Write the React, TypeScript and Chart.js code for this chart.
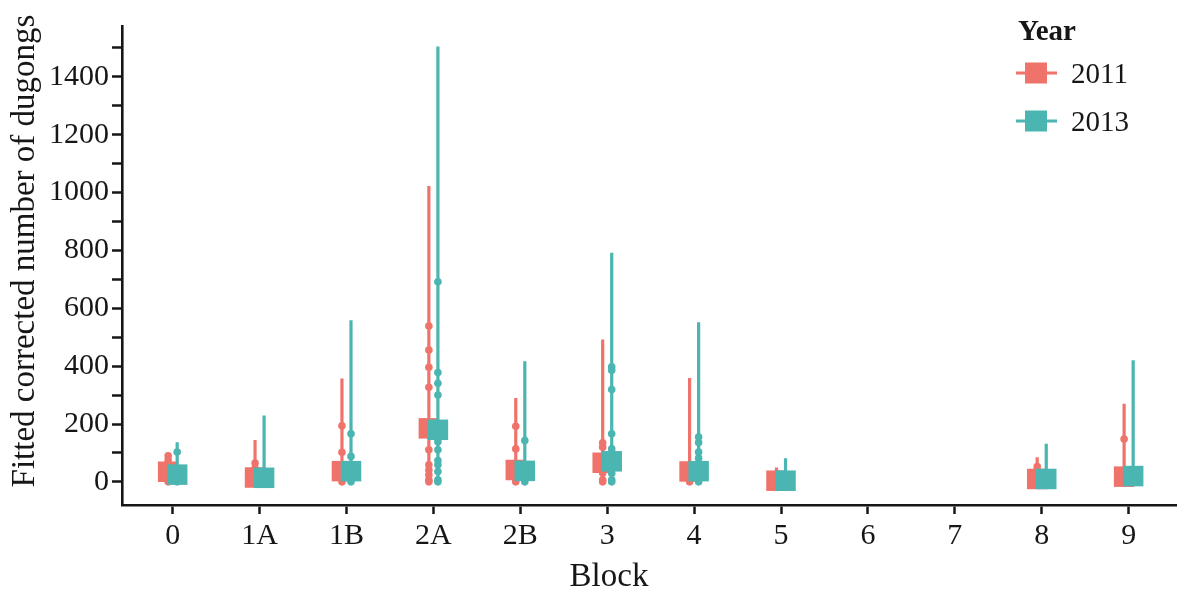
import React, { useEffect, useRef } from "react";
import { Chart, registerables } from "chart.js";

Chart.register(...registerables);

const categories = ["0", "1A", "1B", "2A", "2B", "3", "4", "5", "6", "7", "8", "9"];
const years = ["2011", "2013"];

const median2011 = [35, 15, 37, 185, 41, 66, 36, 4, null, null, 10, 18];
const median2013 = [25, 14, 37, 180, 38, 71, 37, 4, null, null, 10, 20];

const max2011 = [99, 145, 357, 1023, 290, 492, 359, 50, null, null, 85, 270];
const max2013 = [137, 229, 559, 1505, 417, 792, 552, 82, null, null, 132, 420];

const points2011 = [
  [0, 20, 36, 55, 76, 90],
  [0, 7, 20, 47, 65],
  [0, 10, 25, 102, 194],
  [0, 7, 24, 41, 59, 111, 327, 396, 456, 539],
  [0, 10, 25, 114, 192],
  [0, 7, 31, 53, 120, 135],
  [0, 19, 42],
  [0, 7],
  [],
  [],
  [19, 42, 53],
  [1, 24, 148],
];
const points2013 = [
  [0, 10, 103],
  [0, 7, 20, 35],
  [0, 10, 88, 166],
  [0, 7, 36, 59, 74, 111, 139, 300, 341, 378, 692],
  [0, 20, 143],
  [0, 7, 30, 114, 166, 319, 386, 398],
  [0, 20, 82, 103, 136, 155],
  [0],
  [],
  [],
  [0],
  [0, 10],
];

const yTicks = [0, 100, 200, 300, 400, 500, 600, 700, 800, 900, 1000, 1100, 1200, 1300, 1400, 1500];

const RED = "#F0736B";
const TEAL = "#4BB5B1";
const INK = "#161616";
const FONT = '"Liberation Serif", "Times New Roman", serif';
const DODGE = 0.052;

function lineData(maxes: (number | null)[], off: number) {
  const out: { x: number; y: number | null }[] = [];
  maxes.forEach((m, i) => {
    if (m == null) return;
    out.push({ x: i + off, y: 0 });
    out.push({ x: i + off, y: m });
    out.push({ x: i + off, y: null });
  });
  return out;
}

function pointData(pts: number[][], off: number) {
  const out: { x: number; y: number }[] = [];
  pts.forEach((arr, i) => arr.forEach((v) => out.push({ x: i + off, y: v })));
  return out;
}

function medData(meds: (number | null)[], off: number) {
  const out: { x: number; y: number }[] = [];
  meds.forEach((m, i) => {
    if (m != null) out.push({ x: i + off, y: m });
  });
  return out;
}

const overlayPlugin = {
  id: "overlay",
  afterDraw(chart: any) {
    const ctx = chart.ctx;
    ctx.save();
    ctx.fillStyle = INK;
    // Y title
    ctx.save();
    ctx.translate(34, 251);
    ctx.rotate(-Math.PI / 2);
    ctx.font = `33px ${FONT}`;
    ctx.textAlign = "center";
    ctx.textBaseline = "alphabetic";
    ctx.fillText("Fitted corrected number of dugongs", 0, 0);
    ctx.restore();
    // X title
    ctx.font = `33px ${FONT}`;
    ctx.textAlign = "center";
    ctx.textBaseline = "alphabetic";
    ctx.fillText("Block", 609, 586);
    // Legend
    ctx.textAlign = "left";
    ctx.font = `bold 29px ${FONT}`;
    ctx.fillText("Year", 1018, 40);
    const items = [
      { label: years[0], color: RED, y: 73 },
      { label: years[1], color: TEAL, y: 121 },
    ];
    items.forEach((it) => {
      ctx.strokeStyle = it.color;
      ctx.lineWidth = 3;
      ctx.beginPath();
      ctx.moveTo(1016, it.y);
      ctx.lineTo(1057, it.y);
      ctx.stroke();
      ctx.fillStyle = it.color;
      ctx.fillRect(1025, it.y - 10.5, 22, 21);
      ctx.fillStyle = INK;
      ctx.font = `29px ${FONT}`;
      ctx.fillText(it.label, 1071, it.y + 10);
    });
    ctx.restore();
  },
};

export default function App() {
  const ref = useRef<HTMLCanvasElement | null>(null);

  useEffect(() => {
    document.body.style.margin = "0";
    const canvas = ref.current;
    if (!canvas) return;
    const chart = new Chart(canvas, {
      type: "scatter",
      data: {
        datasets: [
          {
            label: "2013 median",
            data: medData(median2013, DODGE),
            backgroundColor: TEAL,
            borderWidth: 0,
            pointStyle: "rect",
            pointRadius: 14.5,
          },
          {
            label: "2013 points",
            data: pointData(points2013, DODGE),
            backgroundColor: TEAL,
            borderWidth: 0,
            pointStyle: "circle",
            pointRadius: 3.8,
          },
          {
            label: "2013 range",
            data: lineData(max2013, DODGE),
            showLine: true,
            spanGaps: false,
            borderColor: TEAL,
            borderWidth: 3.2,
            pointRadius: 0,
          },
          {
            label: "2011 median",
            data: medData(median2011, -DODGE),
            backgroundColor: RED,
            borderWidth: 0,
            pointStyle: "rect",
            pointRadius: 14.5,
          },
          {
            label: "2011 points",
            data: pointData(points2011, -DODGE),
            backgroundColor: RED,
            borderWidth: 0,
            pointStyle: "circle",
            pointRadius: 3.8,
          },
          {
            label: "2011 range",
            data: lineData(max2011, -DODGE),
            showLine: true,
            spanGaps: false,
            borderColor: RED,
            borderWidth: 3.2,
            pointRadius: 0,
          },
        ],
      },
      options: {
        responsive: false,
        animation: false,
        devicePixelRatio: 1,
        events: [],
        layout: { autoPadding: false, padding: { top: 26, right: 6, left: 0, bottom: 0 } },
        plugins: {
          legend: { display: false },
          tooltip: { enabled: false },
        },
        scales: {
          x: {
            type: "linear",
            min: -0.583,
            max: 11.545,
            afterBuildTicks: (scale: any) => {
              scale.ticks = categories.map((_, i) => ({ value: i }));
            },
            afterFit: (scale: any) => {
              scale.height = 87;
            },
            ticks: {
              autoSkip: false,
              maxRotation: 0,
              padding: 4,
              color: INK,
              font: { family: FONT, size: 30 },
              callback: (v: any) => categories[Math.round(Number(v))] ?? "",
            },
            grid: {
              drawOnChartArea: false,
              drawTicks: true,
              tickLength: 9,
              color: INK,
              tickColor: INK,
              tickWidth: 2.5,
            },
            border: { display: true, color: INK, width: 2.6 },
          },
          y: {
            type: "linear",
            min: -80,
            max: 1576,
            afterBuildTicks: (scale: any) => {
              scale.ticks = yTicks.map((v) => ({ value: v }));
            },
            afterFit: (scale: any) => {
              scale.width = 122;
            },
            ticks: {
              autoSkip: false,
              padding: 3,
              color: INK,
              font: { family: FONT, size: 30 },
              callback: (v: any) => (Number(v) % 200 === 0 ? String(v) : ""),
            },
            grid: {
              drawOnChartArea: false,
              drawTicks: true,
              tickLength: 10,
              color: INK,
              tickColor: INK,
              tickWidth: 2.5,
            },
            border: { display: true, color: INK, width: 2.6 },
          },
        },
      },
      plugins: [overlayPlugin],
    } as any);
    return () => chart.destroy();
  }, []);

  return (
    <div style={{ width: 1182, height: 592, position: "relative", background: "#fff" }}>
      <canvas ref={ref} width={1182} height={592} style={{ display: "block" }} />
    </div>
  );
}
